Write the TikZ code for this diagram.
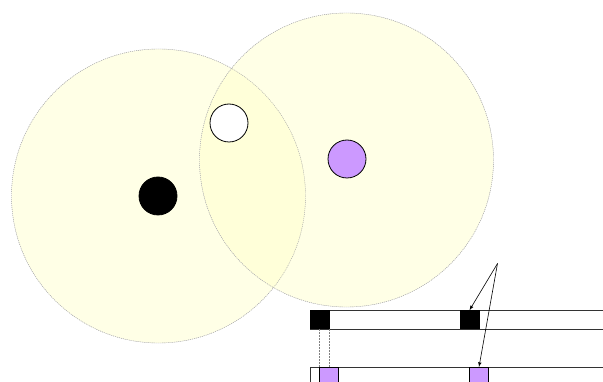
\documentclass[tikz,border=0pt]{standalone}
\begin{document}
\begin{tikzpicture}[x=1pt,y=-1pt,
  zone/.style={draw=gray!60,dashed,dash pattern=on 1pt off 1pt,line width=0.4pt,fill={rgb,255:red,255;green,255;blue,200},fill opacity=0.45},
  dot/.style={circle,draw=black,line width=0.8pt,minimum size=38pt,inner sep=0pt},
  blk/.style={rectangle,fill=black,draw=black,line width=0.6pt,minimum width=19pt,minimum height=18pt,inner sep=0pt},
  pur/.style={rectangle,fill={rgb,255:red,204;green,153;blue,255},draw=black,line width=0.6pt,minimum width=19pt,minimum height=20pt,inner sep=0pt,anchor=north},
  bar/.style={draw=black!80,line width=0.8pt,fill=white},
  arr/.style={-latex,line width=0.6pt},
  guide/.style={draw=gray,dashed,dash pattern=on 2pt off 1pt,line width=0.6pt}]
\clip (0,0) rectangle (603,382);
\useasboundingbox (0,0) rectangle (603,382);
% coverage zones
\fill[zone] (158.5,196) circle (147);
\fill[zone] (346.5,160) circle (147);
\draw[zone,fill=none] (158.5,196) circle (147);
\draw[zone,fill=none] (346.5,160) circle (147);
% nodes
\node[dot,fill=black] (b) at (158,196) {};
\node[dot,fill=white] (w) at (229,123) {};
\node[dot,fill={rgb,255:red,204;green,153;blue,255}] (p) at (347,159) {};
% timelines
\draw[bar] (310,310) rectangle (610,329);
\draw[bar] (310,367) rectangle (610,400);
\node[blk] (s1) at (319.5,319.5) {};
\node[blk] (s2) at (469.5,319.5) {};
\node[pur] (q1) at (329,367) {};
\node[pur] (q2) at (479,367) {};
% guides
\draw[guide] (s1.south) ++(0,0) coordinate (g1) -- (g1 |- q1.north);
\draw[guide] (s1.south east) coordinate (g2) -- (g2 |- q1.north);
% arrows
\coordinate (src) at (497.5,263.5);
\draw[arr] (src) -- (s2.north);
\draw[arr] (src) -- (q2.north);
\end{tikzpicture}
\end{document}
